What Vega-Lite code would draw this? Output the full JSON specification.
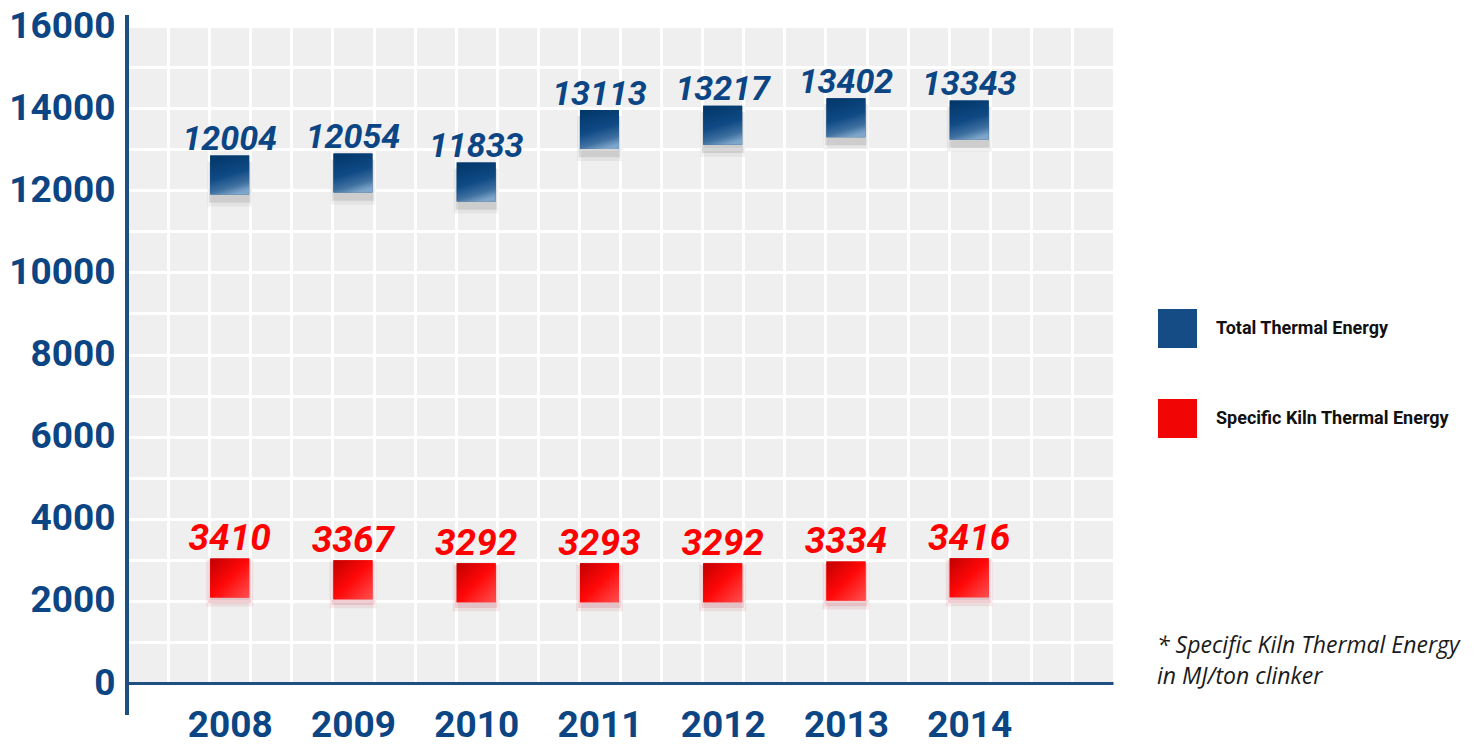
{
  "$schema": "https://vega.github.io/schema/vega-lite/v6.json",
  "width": 986,
  "height": 657,
  "autosize": {"type": "none"},
  "padding": {"left": 127, "top": 26, "right": 371, "bottom": 66},
  "background": "#ffffff",
  "config": {"view": {"fill": "#efefef", "stroke": null}},
  "title": {
    "text": ["* Specific Kiln Thermal Energy", "in MJ/ton clinker"],
    "orient": "top",
    "anchor": "end",
    "frame": "group",
    "align": "left",
    "baseline": "top",
    "dx": 44,
    "dy": 686,
    "font": "Open Sans",
    "fontStyle": "italic",
    "fontWeight": "normal",
    "fontSize": 23,
    "lineHeight": 31,
    "color": "#1a1a1a"
  },
  "data": {
    "values": [
      {"year": 2008, "series": "Total Thermal Energy", "value": 12004},
      {"year": 2009, "series": "Total Thermal Energy", "value": 12054},
      {"year": 2010, "series": "Total Thermal Energy", "value": 11833},
      {"year": 2011, "series": "Total Thermal Energy", "value": 13113},
      {"year": 2012, "series": "Total Thermal Energy", "value": 13217},
      {"year": 2013, "series": "Total Thermal Energy", "value": 13402},
      {"year": 2014, "series": "Total Thermal Energy", "value": 13343},
      {"year": 2008, "series": "Specific Kiln Thermal Energy", "value": 3410},
      {"year": 2009, "series": "Specific Kiln Thermal Energy", "value": 3367},
      {"year": 2010, "series": "Specific Kiln Thermal Energy", "value": 3292},
      {"year": 2011, "series": "Specific Kiln Thermal Energy", "value": 3293},
      {"year": 2012, "series": "Specific Kiln Thermal Energy", "value": 3292},
      {"year": 2013, "series": "Specific Kiln Thermal Energy", "value": 3334},
      {"year": 2014, "series": "Specific Kiln Thermal Energy", "value": 3416}
    ]
  },
  "encoding": {
    "x": {
      "field": "year",
      "type": "quantitative",
      "scale": {"domain": [2007.1667, 2015.1667], "nice": false, "zero": false},
      "axis": {
        "title": null,
        "values": [2007.5, 2007.8333, 2008, 2008.1667, 2008.5, 2008.8333, 2009, 2009.1667, 2009.5, 2009.8333, 2010, 2010.1667, 2010.5, 2010.8333, 2011, 2011.1667, 2011.5, 2011.8333, 2012, 2012.1667, 2012.5, 2012.8333, 2013, 2013.1667, 2013.5, 2013.8333, 2014, 2014.1667, 2014.5, 2014.8333],
        "tickCount": 200,
        "labelOverlap": false,
        "labelFlush": false,
        "labelExpr": "datum.value % 1 === 0 ? '' + datum.value : ''",
        "grid": true,
        "gridColor": "#ffffff",
        "gridWidth": 3,
        "gridOpacity": {"condition": {"test": "datum.value % 1 !== 0", "value": 1}, "value": 0},
        "ticks": false,
        "domain": true,
        "domainColor": "#1f4e80",
        "domainWidth": 3,
        "labelFont": "Roboto",
        "labelFontWeight": "bold",
        "labelFontSize": 37,
        "labelColor": "#0b4584",
        "labelPadding": 24,
        "labelBaseline": "top"
      }
    },
    "y": {
      "field": "value",
      "type": "quantitative",
      "scale": {"domain": [0, 16000], "nice": false},
      "axis": {
        "title": null,
        "values": [0, 1000, 2000, 3000, 4000, 5000, 6000, 7000, 8000, 9000, 10000, 11000, 12000, 13000, 14000, 15000, 16000],
        "tickCount": 200,
        "labelOverlap": false,
        "labelExpr": "datum.value % 2000 === 0 ? '' + datum.value : ''",
        "grid": true,
        "gridColor": "#ffffff",
        "gridWidth": 3,
        "ticks": false,
        "domain": false,
        "labelFont": "Roboto",
        "labelFontWeight": "bold",
        "labelFontSize": 37,
        "labelColor": "#0b4584",
        "labelPadding": 12
      }
    }
  },
  "layer": [
    {
      "mark": {"type": "rule", "color": "#1f4e80", "strokeWidth": 3},
      "encoding": {
        "x": {"datum": 2007.1667, "type": "quantitative"},
        "y": {"datum": -780, "type": "quantitative"},
        "y2": {"datum": 16270}
      }
    },
    {
      "transform": [{"filter": "datum.series === 'Total Thermal Energy'"}],
      "layer": [
        {
          "mark": {"type": "point", "shape": "square", "size": 2000, "filled": true, "color": "#8a8a8a", "opacity": 0.12, "yOffset": -6}
        },
        {
          "mark": {"type": "point", "shape": "square", "size": 1700, "filled": true, "color": "#7a7a7a", "opacity": 0.2, "yOffset": -8}
        },
        {
          "mark": {"type": "point", "shape": "square", "size": 1521, "filled": true, "opacity": 1, "strokeWidth": 0, "yOffset": -15},
          "encoding": {
            "fill": {
              "field": "series",
              "type": "nominal",
              "scale": {
                "domain": ["Total Thermal Energy", "Specific Kiln Thermal Energy"],
                "range": ["#154c85", "#f20505"]
              },
              "legend": {
                "title": null,
                "orient": "none",
                "legendX": 1031,
                "legendY": 283,
                "padding": 0,
                "symbolType": "square",
                "symbolSize": 1521,
                "symbolStrokeWidth": 0,
                "symbolOpacity": 1,
                "rowPadding": 51,
                "labelOffset": 19,
                "labelFont": "Roboto",
                "labelFontWeight": "bold",
                "labelFontSize": 18,
                "labelColor": "#111111",
                "labelLimit": 400
              }
            }
          }
        },
        {
          "mark": {"type": "point", "shape": "square", "size": 1521, "filled": true, "opacity": 1, "strokeWidth": 0, "yOffset": -15,
            "fill": {"gradient": "linear", "x1": 0.3, "y1": 0, "x2": 0.6, "y2": 1, "stops": [{"offset": 0, "color": "#03386a"}, {"offset": 0.5, "color": "#0f4a85"}, {"offset": 0.8, "color": "#3f70a0"}, {"offset": 1, "color": "#7ea6ca"}]}}
        },
        {
          "mark": {"type": "text", "font": "Roboto", "fontStyle": "italic", "fontWeight": "bold", "fontSize": 34, "color": "#0b4584", "baseline": "alphabetic", "align": "center", "yOffset": -40},
          "encoding": {"text": {"field": "value", "type": "quantitative", "format": "d"}}
        }
      ]
    },
    {
      "transform": [{"filter": "datum.series === 'Specific Kiln Thermal Energy'"}],
      "layer": [
        {
          "mark": {"type": "point", "shape": "square", "size": 2200, "filled": true, "color": "#c03040", "opacity": 0.1, "yOffset": 40}
        },
        {
          "mark": {"type": "point", "shape": "square", "size": 1800, "filled": true, "color": "#c03040", "opacity": 0.15, "yOffset": 39}
        },
        {
          "mark": {"type": "point", "shape": "square", "size": 1521, "filled": true, "opacity": 1, "strokeWidth": 0, "yOffset": 35},
          "encoding": {
            "fill": {"field": "series", "type": "nominal"}
          }
        },
        {
          "mark": {"type": "point", "shape": "square", "size": 1521, "filled": true, "opacity": 1, "strokeWidth": 0, "yOffset": 35,
            "fill": {"gradient": "linear", "x1": 0, "y1": 0, "x2": 1, "y2": 1, "stops": [{"offset": 0, "color": "#c00000"}, {"offset": 0.5, "color": "#ff0808"}, {"offset": 1, "color": "#ff5050"}]}}
        },
        {
          "mark": {"type": "text", "font": "Roboto", "fontStyle": "italic", "fontWeight": "bold", "fontSize": 37, "color": "#ff0000", "baseline": "alphabetic", "align": "center", "yOffset": 7},
          "encoding": {"text": {"field": "value", "type": "quantitative", "format": "d"}}
        }
      ]
    }
  ]
}
